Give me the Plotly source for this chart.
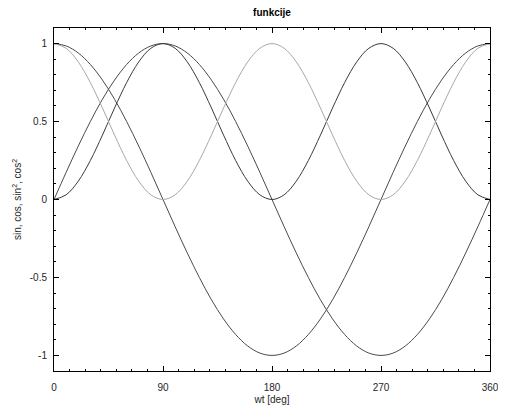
import plotly.graph_objects as go

wt = list(range(0, 361, 10))
sin_v = [0, .174, .342, .5, .643, .766, .866, .940, .985, 1, .985, .940, .866, .766, .643, .5, .342, .174, 0,
         -.174, -.342, -.5, -.643, -.766, -.866, -.940, -.985, -1, -.985, -.940, -.866, -.766, -.643, -.5, -.342, -.174, 0]
cos_v = [1, .985, .940, .866, .766, .643, .5, .342, .174, 0, -.174, -.342, -.5, -.643, -.766, -.866, -.940, -.985, -1,
         -.985, -.940, -.866, -.766, -.643, -.5, -.342, -.174, 0, .174, .342, .5, .643, .766, .866, .940, .985, 1]
sin2_v = [0, .030, .117, .25, .413, .587, .75, .883, .970, 1, .970, .883, .75, .587, .413, .25, .117, .030, 0,
          .030, .117, .25, .413, .587, .75, .883, .970, 1, .970, .883, .75, .587, .413, .25, .117, .030, 0]
cos2_v = [1, .970, .883, .75, .587, .413, .25, .117, .030, 0, .030, .117, .25, .413, .587, .75, .883, .970, 1,
          .970, .883, .75, .587, .413, .25, .117, .030, 0, .030, .117, .25, .413, .587, .75, .883, .970, 1]

x_ticks = [0, 90, 180, 270, 360]
x_labels = ["0", "90", "180", "270", "360"]
y_ticks = [-1, -0.5, 0, 0.5, 1]
y_labels = ["-1", "-0.5", "0", "0.5", "1"]

series = [
    ("sin", sin_v, "#4a4a4a"),
    ("cos", cos_v, "#4a4a4a"),
    ("sin2", sin2_v, "#3a3a3a"),
    ("cos2", cos2_v, "#a8a8a8"),
]

fig = go.Figure()
for name, vals, col in series:
    fig.add_trace(go.Scatter(x=wt, y=vals, mode="lines", name=name,
                             line=dict(color=col, width=1, shape="spline", smoothing=1.0),
                             showlegend=False, hoverinfo="skip"))

font = dict(family="Liberation Sans, Arial, sans-serif", size=10, color="#262626")

# page body adds an 8px offset, so the figure is 8px smaller and margins shifted
fig.update_layout(
    width=498, height=402,
    margin=dict(l=46, r=16, t=20, b=39, autoexpand=False),
    paper_bgcolor="white", plot_bgcolor="white",
    font=font,
    title=dict(text="<b>funkcije</b>", x=0.5, xanchor="center", xref="paper",
               y=1 - 4 / 402, yanchor="middle", yref="container", automargin=False,
               font=dict(family="Liberation Sans, Arial, sans-serif", size=10, color="#000")),
)
fig.update_xaxes(
    range=[0, 360], tickvals=x_ticks, ticktext=x_labels, automargin=False,
    showline=True, linecolor="#000", linewidth=1, mirror="ticks",
    ticks="inside", ticklen=5, tickcolor="#000", tickwidth=1, ticklabelstandoff=7,
    minor=dict(dtick=90 / 7, ticks="inside", ticklen=2, tickcolor="#000", tickwidth=1, showgrid=False),
    showgrid=False, zeroline=False,
    title=dict(text="wt [deg]", standoff=3, font=font),
)
fig.update_yaxes(
    range=[-1.1, 1.1], tickvals=y_ticks, ticktext=y_labels, automargin=True,
    showline=True, linecolor="#000", linewidth=1, mirror="ticks",
    ticks="inside", ticklen=5, tickcolor="#000", tickwidth=1, ticklabelstandoff=4,
    minor=dict(dtick=0.1, ticks="inside", ticklen=2, tickcolor="#000", tickwidth=1, showgrid=False),
    showgrid=False, zeroline=False,
    title=dict(text="sin, cos, sin<sup>2</sup>, cos<sup>2</sup>", standoff=6, font=font),
)

fig.write_html("out.html")
